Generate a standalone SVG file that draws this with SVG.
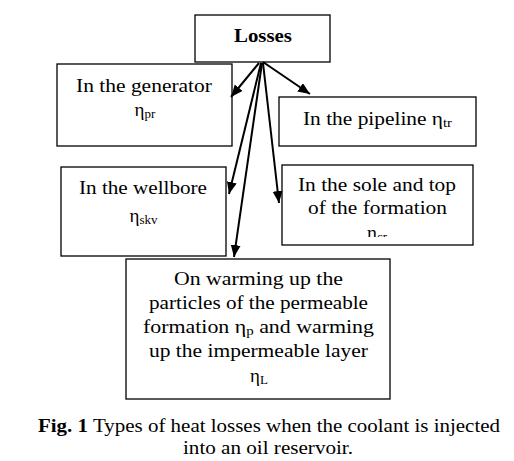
<svg xmlns="http://www.w3.org/2000/svg" width="514" height="461" viewBox="0 0 514 461">
<style>
  .box { fill: #ffffff; stroke: #000000; stroke-width: 1.3; }
  .t { font-family: "Liberation Serif", "Times New Roman", serif; font-size: 19px; fill: #000000; text-anchor: middle; }
  .b { font-weight: bold; }
  .sub { font-size: 13px; }
  .conn line { stroke: #000000; stroke-width: 2; marker-end: url(#ah); }
</style>
<defs>
  <marker id="ah" markerUnits="userSpaceOnUse" markerWidth="14" markerHeight="12" refX="12" refY="5" orient="auto">
    <path d="M0,0 L12,5 L0,10 Z" fill="#000000"/>
  </marker>
  <clipPath id="clipcr"><rect x="283" y="166" width="189" height="71"/></clipPath>
</defs>
<rect width="514" height="461" fill="#ffffff"/>

<g id="losses">
  <rect class="box" x="195" y="15" width="135" height="47"/>
  <text class="t b" x="263" y="42" textLength="58" lengthAdjust="spacingAndGlyphs">Losses</text>
</g>

<g id="generator">
  <rect class="box" x="57" y="64" width="175" height="82"/>
  <text class="t" x="144" y="92" textLength="136" lengthAdjust="spacingAndGlyphs">In the generator</text>
  <text class="t" x="145" y="116">η<tspan class="sub" dy="2">pr</tspan></text>
</g>

<g id="pipeline">
  <rect class="box" x="279" y="97" width="197" height="49"/>
  <text class="t" x="377.5" y="125" textLength="149" lengthAdjust="spacingAndGlyphs">In the pipeline η<tspan class="sub" dy="2">tr</tspan></text>
</g>

<g id="wellbore">
  <rect class="box" x="61" y="167" width="165" height="89"/>
  <text class="t" x="143" y="194" textLength="128" lengthAdjust="spacingAndGlyphs">In the wellbore</text>
  <text class="t" x="143.5" y="222">η<tspan class="sub" dy="2">skv</tspan></text>
</g>

<g id="sole">
  <rect class="box" x="282" y="165" width="191" height="80"/>
  <text class="t" x="377" y="191" textLength="158" lengthAdjust="spacingAndGlyphs">In the sole and top</text>
  <text class="t" x="377.5" y="214" textLength="139" lengthAdjust="spacingAndGlyphs">of the formation</text>
  <text class="t" x="377" y="239" clip-path="url(#clipcr)">η<tspan class="sub" dy="2">cr</tspan></text>
</g>

<g id="formation">
  <rect class="box" x="126" y="259" width="264" height="140"/>
  <text class="t" x="258.5" y="285" textLength="169" lengthAdjust="spacingAndGlyphs">On warming up the</text>
  <text class="t" x="258.5" y="309" textLength="219" lengthAdjust="spacingAndGlyphs">particles of the permeable</text>
  <text class="t" x="258.5" y="333" textLength="231" lengthAdjust="spacingAndGlyphs">formation η<tspan class="sub" dy="2">p</tspan><tspan dy="-2"> and warming</tspan></text>
  <text class="t" x="258.5" y="357" textLength="219" lengthAdjust="spacingAndGlyphs">up the impermeable layer</text>
  <text class="t" x="259" y="382">η<tspan class="sub" dy="2">L</tspan></text>
</g>

<g id="connectors" class="conn">
  <line x1="259" y1="63" x2="231" y2="97"/>
  <line x1="263" y1="62" x2="310" y2="94"/>
  <line x1="261" y1="63" x2="229" y2="194"/>
  <line x1="263" y1="63" x2="279" y2="203"/>
  <line x1="262" y1="63" x2="234" y2="257"/>
</g>

<g id="caption">
  <text class="t" x="269" y="432" textLength="462" lengthAdjust="spacingAndGlyphs"><tspan class="b">Fig. 1</tspan> Types of heat losses when the coolant is injected</text>
  <text class="t" x="268" y="454" textLength="170" lengthAdjust="spacingAndGlyphs">into an oil reservoir.</text>
</g>
</svg>
